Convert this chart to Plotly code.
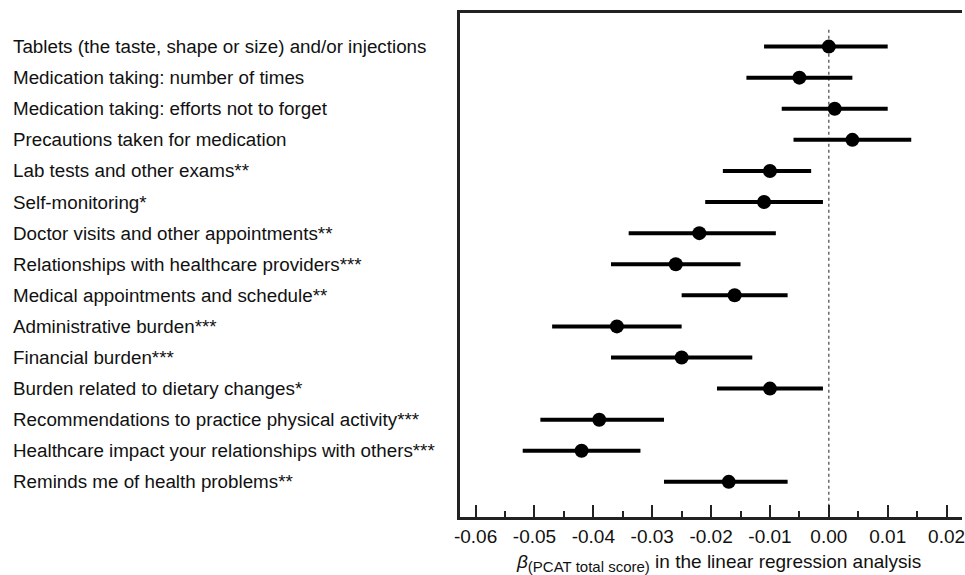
import plotly.graph_objects as go

categories = [
    "Tablets (the taste, shape or size) and/or injections",
    "Medication taking: number of times",
    "Medication taking: efforts not to forget",
    "Precautions taken for medication",
    "Lab tests and other exams**",
    "Self-monitoring*",
    "Doctor visits and other appointments**",
    "Relationships with healthcare providers***",
    "Medical appointments and schedule**",
    "Administrative burden***",
    "Financial burden***",
    "Burden related to dietary changes*",
    "Recommendations to practice physical activity***",
    "Healthcare impact your relationships with others***",
    "Reminds me of health problems**",
]
beta = [0.000, -0.005, 0.001, 0.004, -0.010, -0.011, -0.022, -0.026, -0.016,
        -0.036, -0.025, -0.010, -0.039, -0.042, -0.017]
ci_low = [-0.011, -0.014, -0.008, -0.006, -0.018, -0.021, -0.034, -0.037, -0.025,
          -0.047, -0.037, -0.019, -0.049, -0.052, -0.028]
ci_high = [0.010, 0.004, 0.010, 0.014, -0.003, -0.001, -0.009, -0.015, -0.007,
           -0.025, -0.013, -0.001, -0.028, -0.032, -0.007]
tick_vals = [-0.06, -0.05, -0.04, -0.03, -0.02, -0.01, 0.00, 0.01, 0.02]
tick_text = ["-0.06", "-0.05", "-0.04", "-0.03", "-0.02", "-0.01", "0.00", "0.01", "0.02"]

ypos = list(range(len(categories)))
err_plus = [h - b for h, b in zip(ci_high, beta)]
err_minus = [b - l for b, l in zip(beta, ci_low)]

FONT = "Liberation Sans, Arial, sans-serif"

fig = go.Figure()
fig.add_trace(go.Scatter(
    x=beta, y=ypos, mode="markers",
    marker=dict(color="black", size=14),
    error_x=dict(type="data", symmetric=False, array=err_plus, arrayminus=err_minus,
                 thickness=4, width=0, color="black"),
    showlegend=False, hoverinfo="x",
))

# reference line at zero
fig.add_shape(type="line", xref="x", yref="y", x0=0, x1=0, y0=-0.54, y1=15.13,
              line=dict(color="#444", width=1.2, dash="dot"), layer="below")

for i, c in enumerate(categories):
    fig.add_annotation(x=-0.895, y=i, xref="paper", yref="y", text=c, showarrow=False,
                       xanchor="left", yanchor="middle",
                       font=dict(family=FONT, size=18.8, color="#111"))

fig.add_annotation(
    x=0.1085, xref="paper", y=-0.092, yref="paper", yanchor="middle", xanchor="left",
    text="<i>β</i><sub><span style='font-size:15px'>(PCAT total score)</span></sub> in the linear regression analysis",
    showarrow=False, font=dict(family=FONT, size=19, color="#111"))

fig.update_layout(
    width=965, height=575,
    margin=dict(l=460, r=0, t=13, b=58),
    paper_bgcolor="white", plot_bgcolor="white",
    font=dict(family=FONT, size=19, color="#111"),
    xaxis=dict(
        range=[-0.06265, 0.02262], tickvals=tick_vals, ticktext=tick_text,
        ticks="inside", ticklen=12, tickwidth=2, tickcolor="#222",
        showline=True, linewidth=3, linecolor="#222", mirror=True,
        showgrid=False, zeroline=False, ticklabeloverflow="allow",
        tickfont=dict(family=FONT, size=19, color="#111"),
        minor=dict(dtick=0.005, tick0=0, ticks="inside", ticklen=6, tickwidth=2, tickcolor="#222"),
    ),
    yaxis=dict(
        range=[15.13, -1.08], showticklabels=False, ticks="",
        showline=True, linewidth=3, linecolor="#222",
        showgrid=False, zeroline=False,
    ),
)

fig.write_html("out.html")
